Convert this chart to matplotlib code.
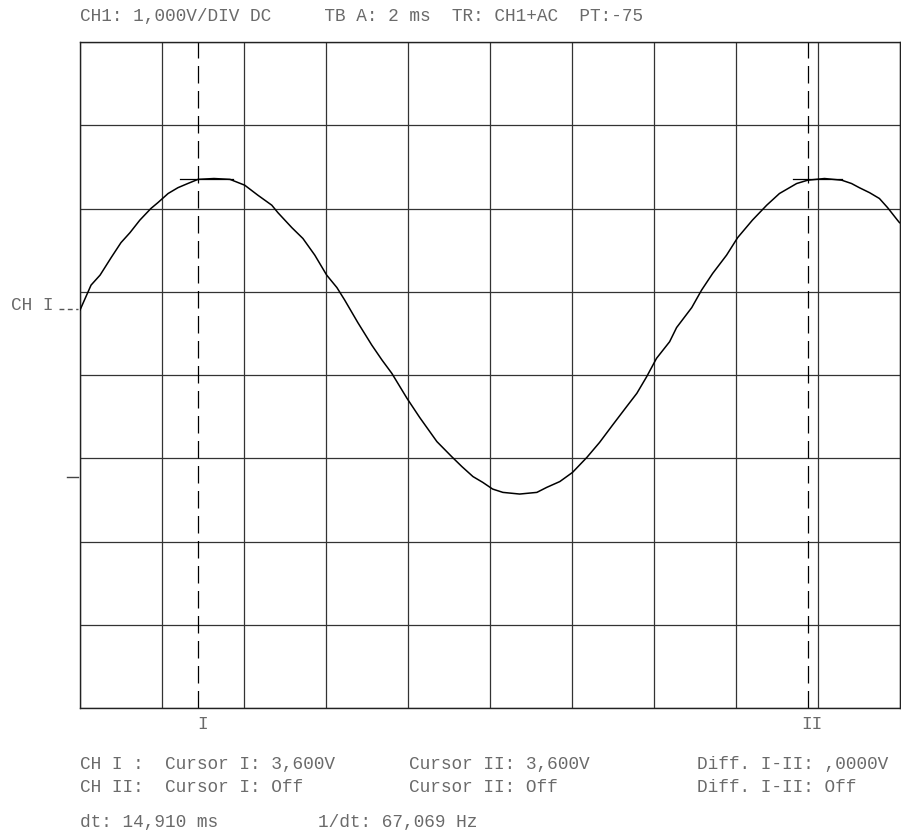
import numpy as np
import matplotlib
matplotlib.use("Agg")
from matplotlib import pyplot as plt

# trace: time in ms, level in divisions (1 V/div) from screen centre
t_ms = [0.00, 0.27, 0.49, 0.76, 1.00, 1.22, 1.46, 1.73, 1.90, 2.15, 2.39, 2.63, 2.88,
        3.27, 3.66, 4.02, 4.34, 4.68, 4.83, 5.17, 5.44, 5.73, 6.02, 6.27, 6.46, 6.78,
        7.12, 7.37, 7.61, 7.98, 8.29, 8.71, 9.07, 9.32, 9.59, 9.83, 10.07, 10.32, 10.73,
        11.15, 11.39, 11.71, 12.02, 12.37, 12.68, 13.00, 13.34, 13.59, 13.83, 14.07,
        14.39, 14.56, 14.93, 15.17, 15.44, 15.78, 16.05, 16.41, 16.76, 17.07, 17.49,
        17.76, 18.17, 18.59, 18.83, 19.02, 19.27, 19.51, 19.71, 19.95, 20.00]
volts = [0.78, 1.08, 1.20, 1.41, 1.59, 1.71, 1.86, 2.00, 2.07, 2.18, 2.25, 2.30, 2.35,
         2.36, 2.35, 2.28, 2.16, 2.04, 1.95, 1.77, 1.64, 1.44, 1.20, 1.05, 0.90, 0.63,
         0.36, 0.18, 0.02, -0.28, -0.51, -0.80, -0.98, -1.10, -1.22, -1.29, -1.37, -1.41,
         -1.43, -1.41, -1.35, -1.28, -1.17, -0.99, -0.81, -0.60, -0.38, -0.22, -0.02,
         0.20, 0.40, 0.57, 0.81, 1.02, 1.22, 1.44, 1.65, 1.86, 2.04, 2.18, 2.30, 2.34,
         2.36, 2.34, 2.30, 2.25, 2.19, 2.12, 2.01, 1.86, 1.83]

cursor_t = [2.88, 17.76]          # cursor I, cursor II
cursor_names = ["I", "II"]
cursor_level = 2.36
cursor_span = [(2.44, 3.73), (17.39, 18.59)]

header = "CH1: 1,000V/DIV DC     TB A: 2 ms  TR: CH1+AC  PT:-75"
rows = [
    ["CH I :  Cursor I: 3,600V", "Cursor II: 3,600V", "Diff. I-II: ,0000V"],
    ["CH II:  Cursor I: Off", "Cursor II: Off", "Diff. I-II: Off"],
]
dt_text = ["dt: 14,910 ms", "1/dt: 67,069 Hz"]

W, H = 901, 832
MONO = "Liberation Mono"
TXT = "#6a6a6a"
FS = 12.8


def fx(x):
    return x / W


def fy(y):
    return 1 - y / H


def label(x, y, s, **kw):
    fig.text(fx(x), fy(y), s, ha="left", va="center", family=MONO,
             fontsize=FS, color=TXT, **kw)


fig = plt.figure(figsize=(W / 100, H / 100), dpi=100)
ax = fig.add_axes([fx(80), fy(708), fx(899.5) - fx(80), fy(42) - fy(708)])
ax.set_xlim(0, 20)
ax.set_ylim(-4, 4)
ax.set_xticks(np.arange(0, 21, 2))
ax.set_yticks(np.arange(-4, 5, 1))
ax.grid(True, color="#333333", linewidth=0.9)
ax.tick_params(length=0, labelbottom=False, labelleft=False)
for s in ax.spines.values():
    s.set_color("#222222")
    s.set_linewidth(1.0)

ax.plot(t_ms, volts, color="black", linewidth=1.1, zorder=3)

for t, name, (a, b) in zip(cursor_t, cursor_names, cursor_span):
    ax.axvline(t, color="black", linewidth=0.9, dashes=(14, 6), zorder=2)
    ax.plot([a, b], [cursor_level, cursor_level], color="black", linewidth=0.9)
    ax.text(t + 0.1, -4.2, name, ha="center", va="center", family=MONO, fontsize=FS,
            color=TXT, clip_on=False)

# channel ground marker and trigger marker on the left edge
label(11, 305, "CH I")
fig.add_artist(plt.Line2D([fx(59), fx(78)], [fy(309), fy(309)], color="#555555",
                          linewidth=1.0, dashes=(3.5, 2.5)))
fig.add_artist(plt.Line2D([fx(67), fx(78)], [fy(477), fy(477)], color="#444444",
                          linewidth=1.0))

label(80, 17, header)
cols = [80, 409, 697]
for r, ypos in zip(rows, [765, 788]):
    for c, s in zip(cols, r):
        label(c, ypos, s)
label(80, 823, dt_text[0])
label(318, 823, dt_text[1])

fig.savefig("out.png", dpi=100)
